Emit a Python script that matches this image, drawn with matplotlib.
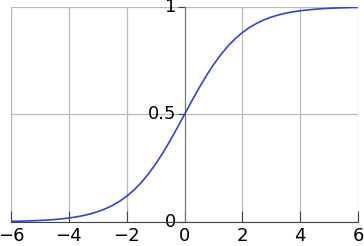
import matplotlib.pyplot as plt

xs = [-6.0, -5.75, -5.5, -5.25, -5.0, -4.75, -4.5, -4.25, -4.0, -3.75, -3.5, -3.25,
      -3.0, -2.75, -2.5, -2.25, -2.0, -1.75, -1.5, -1.25, -1.0, -0.75, -0.5, -0.25,
      0.0, 0.25, 0.5, 0.75, 1.0, 1.25, 1.5, 1.75, 2.0, 2.25, 2.5, 2.75,
      3.0, 3.25, 3.5, 3.75, 4.0, 4.25, 4.5, 4.75, 5.0, 5.25, 5.5, 5.75, 6.0]
ys = [0.0025, 0.0032, 0.0041, 0.0052, 0.0067, 0.0086, 0.011, 0.0141, 0.018, 0.023, 0.0293, 0.0373,
      0.0474, 0.0601, 0.0759, 0.0953, 0.1192, 0.148, 0.1824, 0.2227, 0.2689, 0.3208, 0.3775, 0.4378,
      0.5, 0.5622, 0.6225, 0.6792, 0.7311, 0.7773, 0.8176, 0.852, 0.8808, 0.9047, 0.9241, 0.9399,
      0.9526, 0.9627, 0.9707, 0.977, 0.982, 0.9859, 0.989, 0.9914, 0.9933, 0.9948, 0.9959, 0.9968, 0.9975]
xticks = [-6, -4, -2, 0, 2, 4, 6]
yticks = [0, 0.5, 1]
ytick_labels = ["0", "0.5", "1"]

fig = plt.figure(figsize=(3.64, 2.46), dpi=100)
ax = fig.add_axes([0.030, 0.098, 0.954, 0.874])

ax.plot(xs, ys, color="#3344cc", lw=1.2, zorder=3)

ax.set_xlim(-6, 6)
ax.set_ylim(0, 1)
ax.set_xticks(xticks)
ax.set_yticks(yticks)
ax.set_yticklabels(ytick_labels)
ax.grid(True, color="#b8b8b8", lw=0.9)

ax.spines["left"].set_position("zero")
ax.spines["left"].set_color("#777777")
ax.spines["bottom"].set_color("#444444")
ax.spines["top"].set_visible(False)
ax.spines["right"].set_visible(False)

ax.tick_params(axis="x", direction="in", length=8, color="#444444", labelsize=13, pad=4)
ax.tick_params(axis="y", direction="out", length=5, color="#444444", labelsize=13, pad=1)
for lab in ax.get_yticklabels():
    lab.set_verticalalignment("center")

fig.savefig("out.png")
plt.close()
